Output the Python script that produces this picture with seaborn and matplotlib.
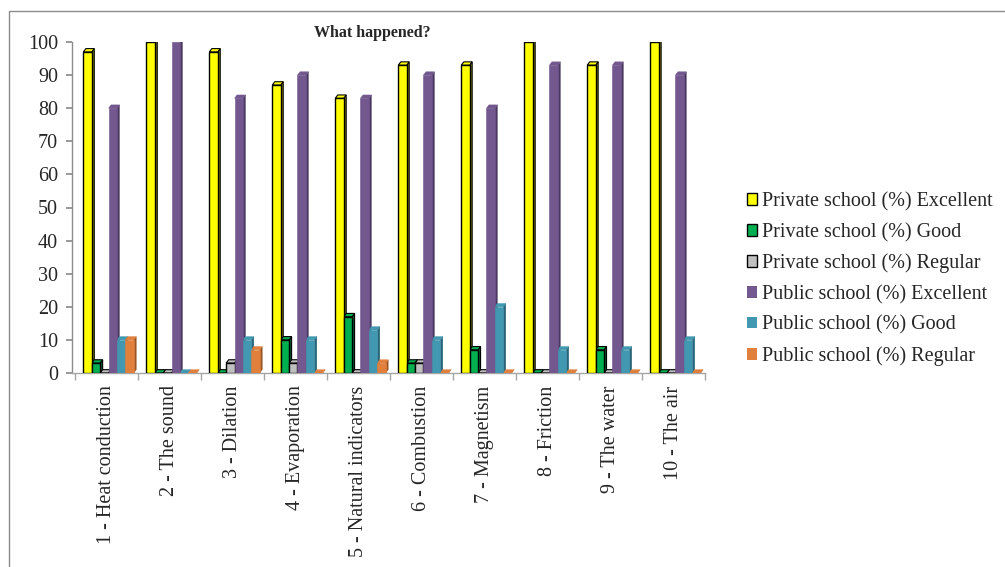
import numpy as np
import pandas as pd
import matplotlib
matplotlib.use("Agg")
import matplotlib.pyplot as plt
from matplotlib.patches import Patch, Polygon, Rectangle
import seaborn as sns

# Topics covered and the share of answers in each rating (%)
topics = ["1 - Heat conduction", "2 - The sound", "3 - Dilation", "4 - Evaporation",
          "5 - Natural indicators", "6 - Combustion", "7 - Magnetism", "8 - Friction",
          "9 - The water", "10 - The air"]
private_excellent = [97, 100, 97, 87, 83, 93, 93, 100, 93, 100]
private_good = [3, 0, 0, 10, 17, 3, 7, 0, 7, 0]
private_regular = [0, 0, 3, 3, 0, 3, 0, 0, 0, 0]
public_excellent = [80, 100, 83, 90, 83, 90, 80, 93, 93, 90]
public_good = [10, 0, 10, 10, 13, 10, 20, 7, 7, 10]
public_regular = [10, 0, 7, 0, 3, 0, 0, 0, 0, 0]

series_names = ["Private school (%) Excellent", "Private school (%) Good",
                "Private school (%) Regular", "Public school (%) Excellent",
                "Public school (%) Good", "Public school (%) Regular"]
series_values = [private_excellent, private_good, private_regular,
                 public_excellent, public_good, public_regular]
face_colors = ["#FFFF00", "#00B050", "#C0C0C0", "#73588F", "#4298B0", "#E0803C"]
side_colors = ["#8A8A00", "#005A2A", "#707070", "#4A3860", "#2A6478", "#9A5525"]
outlined = [True, True, True, False, False, False]

rows = []
for name, vals in zip(series_names, series_values):
    for topic, v in zip(topics, vals):
        rows.append({"topic": topic, "series": name, "value": v})
df = pd.DataFrame(rows)

sns.set_theme(style="white")
plt.rcParams["font.family"] = ["Liberation Serif", "DejaVu Serif"]

fig = plt.figure(figsize=(10.05, 5.67), dpi=100)
ax = fig.add_axes([72 / 1005, 1 - 373 / 567, (705 - 72) / 1005, (373 - 42) / 567])

sns.barplot(data=df, x="topic", y="value", hue="series", hue_order=series_names,
            palette=face_colors, width=0.8, saturation=1, legend=False, ax=ax,
            errorbar=None)

ax.set_xlim(-0.55, 9.5)
ax.set_ylim(0, 100)

# give each column a shaded side and top for a slight depth effect
dx, dy = 0.04, 1.0
for k, cont in enumerate(ax.containers):
    for bar in cont:
        bar.set_x(bar.get_x() + 0.03)
        x0 = bar.get_x()
        w = bar.get_width()
        h = bar.get_height()
        if outlined[k]:
            bar.set_edgecolor("black")
            bar.set_linewidth(1.0)
        else:
            bar.set_edgecolor(face_colors[k])
            bar.set_linewidth(0.4)
        bar.set_zorder(3)
        side = Polygon([(x0 + w, 0), (x0 + w + dx, dy), (x0 + w + dx, h + dy), (x0 + w, h)],
                       closed=True, facecolor=side_colors[k],
                       edgecolor="black" if outlined[k] else side_colors[k],
                       linewidth=0.8 if outlined[k] else 0.3, zorder=2.9)
        top = Polygon([(x0, h), (x0 + dx, h + dy), (x0 + w + dx, h + dy), (x0 + w, h)],
                      closed=True, facecolor=face_colors[k],
                      edgecolor="black" if outlined[k] else face_colors[k],
                      linewidth=0.8 if outlined[k] else 0.3, zorder=2.95)
        ax.add_patch(side)
        ax.add_patch(top)

# axes styling
for s in ["top", "right"]:
    ax.spines[s].set_visible(False)
ax.spines["left"].set_color("#8C8C8C")
ax.spines["bottom"].set_color("#A6A6A6")
ax.spines["left"].set_linewidth(1.0)
ax.spines["bottom"].set_linewidth(1.0)

ax.set_yticks(np.arange(0, 101, 10))
ax.tick_params(axis="y", direction="out", length=4, color="#8C8C8C", labelsize=14.5, pad=6,
               left=True)
ax.set_xticks(np.arange(len(topics)))
ax.set_xticklabels(topics, rotation=90, fontsize=14.5, va="top")
ax.tick_params(axis="x", length=0, pad=9)
ax.set_xticks(np.arange(-0.5, len(topics) + 0.5, 1), minor=True)
ax.tick_params(axis="x", which="minor", direction="out", length=5, color="#A6A6A6",
               bottom=True)
ax.set_xlabel("")
ax.set_ylabel("")
ax.grid(False)

fig.text(372 / 1005, 1 - 33 / 567, "What happened?", ha="center", va="center",
         fontsize=11.5, fontweight="bold")

handles = [Patch(facecolor=c, edgecolor="black" if o else c, linewidth=1.0 if o else 0)
           for c, o in zip(face_colors, outlined)]
fig.legend(handles, series_names, loc="center left",
           bbox_to_anchor=(747 / 1005, 1 - 279 / 567), frameon=False, fontsize=14.5,
           handlelength=0.5, handleheight=0.5, handletextpad=0.25, labelspacing=0.57,
           borderaxespad=0, borderpad=0)

# outer frame of the chart area
fig.patches.append(Rectangle((9 / 1005, -0.05), 1.2, 1 - 11 / 567 + 0.05,
                             transform=fig.transFigure, fill=False,
                             edgecolor="#8C8C8C", linewidth=1.0))

fig.savefig("out.png", dpi=100)
